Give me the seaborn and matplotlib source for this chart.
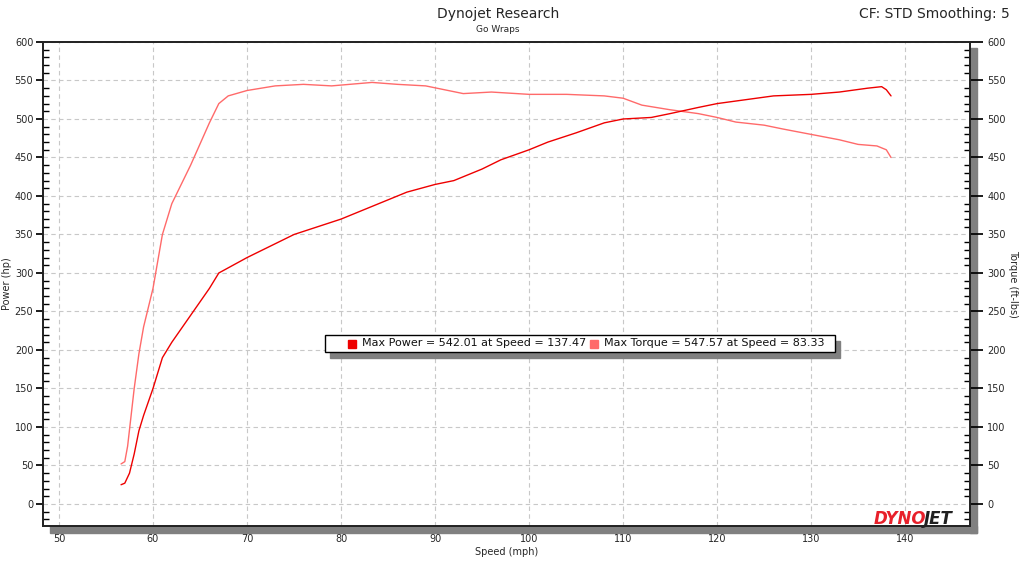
import matplotlib
matplotlib.use("Agg")
import matplotlib.pyplot as plt
import seaborn as sns
import pandas as pd
from matplotlib.ticker import MultipleLocator
from matplotlib.patches import Rectangle

power_speed = [56.6,57,57.5,58,58.5,59,60,61,62,64,66,67,70,75,80,84,87,90,92,95,97,100,102,105,108,110,113,115,118,120,123,126,130,133,136,137.5,138,138.5]
power_hp = [25,27,40,65,95,115,150,190,210,245,280,300,320,350,370,390,405,415,420,435,447,460,470,482,495,500,502,507,515,520,525,530,532,535,540,542,538,530]
torque_speed = [56.6,57,57.3,58,58.5,59,60,61,62,64,66,67,68,70,73,76,79,83.3,86,89,91,93,96,100,104,108,110,112,115,118,120,122,125,127,130,133,135,137,138,138.5]
torque_ftlb = [52,55,75,150,195,230,280,350,390,440,495,520,530,537,543,545,543,547.5,545,543,538,533,535,532,532,530,527,518,512,507,502,496,492,487,480,473,467,465,460,450]

sns.set_theme(style="white")
plt.rcParams['font.family'] = ['DejaVu Sans']
fig = plt.figure(figsize=(10.24, 5.76), dpi=100)
ax = fig.add_axes([43/1024, 1-526/576, 927/1024, 484/576])
dp = pd.DataFrame({"s": power_speed, "v": power_hp})
dt = pd.DataFrame({"s": torque_speed, "v": torque_ftlb})
sns.lineplot(data=dt, x="s", y="v", ax=ax, color="#ff6a6a", lw=1)
sns.lineplot(data=dp, x="s", y="v", ax=ax, color="#ee0000", lw=1)
ax.set_xlim(48.3, 146.9)
ax.set_ylim(-28.6, 600)
ax.xaxis.set_major_locator(MultipleLocator(10))
ax.xaxis.set_minor_locator(MultipleLocator(2))
ax.yaxis.set_major_locator(MultipleLocator(50))
ax.yaxis.set_minor_locator(MultipleLocator(10))
ax.grid(True, which="major", color="#c8c8c8", ls=(0, (4, 3)), lw=0.8)
ax.tick_params(which="both", labelsize=7, color="black", top=False, right=False)
ax.tick_params(axis="y", which="major", direction="out", length=5, pad=2)
ax.tick_params(axis="y", which="minor", direction="in", length=4)
ax.tick_params(axis="x", which="major", direction="inout", length=10, pad=1)
ax.tick_params(axis="x", which="minor", direction="in", length=5)
ax.set_xlabel("Speed (mph)", fontsize=7, labelpad=2)
ax.set_ylabel("Power (hp)", fontsize=7, labelpad=2)
for s in ax.spines.values():
    s.set_color("black"); s.set_linewidth(1.2)
ax2 = ax.twinx()
ax2.set_ylim(ax.get_ylim())
ax2.yaxis.set_major_locator(MultipleLocator(50))
ax2.yaxis.set_minor_locator(MultipleLocator(10))
ax2.tick_params(which="both", labelsize=7, color="black", left=False, top=False, bottom=False)
ax2.tick_params(which="major", direction="out", length=9)
ax2.tick_params(which="minor", direction="in", length=4)
ax2.set_ylabel("Torque (ft-lbs)", fontsize=7, rotation=270, labelpad=9)
ax2.grid(False)
# shadows
fig.patches.append(Rectangle((50/1024, 1-533/576), 927/1024, 7/576, transform=fig.transFigure, color="#808080", zorder=-1))
fig.patches.append(Rectangle((970/1024, 1-533/576), 7/1024, 485/576, transform=fig.transFigure, color="#808080", zorder=-1))
fig.text(498/1024, 1-14/576, "Dynojet Research", ha="center", va="center", fontsize=10)
fig.text(498/1024, 1-29/576, "Go Wraps", ha="center", va="center", fontsize=6.5)
fig.text(1010/1024, 1-14/576, "CF: STD Smoothing: 5", ha="right", va="center", fontsize=10)
# legend box
fig.patches.append(Rectangle((330/1024, 1-358/576), 510/1024, 17/576, transform=fig.transFigure, color="#808080", zorder=5))
fig.patches.append(Rectangle((325/1024, 1-352/576), 510/1024, 17/576, transform=fig.transFigure, facecolor="white", edgecolor="black", lw=1, zorder=6))
fig.patches.append(Rectangle((348/1024, 1-348/576), 8/1024, 8/576, transform=fig.transFigure, color="#ee0000", zorder=7))
fig.text(362/1024, 1-343.5/576, "Max Power = 542.01 at Speed = 137.47", fontsize=8, va="center", zorder=7, color="#111111")
fig.patches.append(Rectangle((590/1024, 1-348/576), 8/1024, 8/576, transform=fig.transFigure, color="#ff6a6a", zorder=7))
fig.text(604/1024, 1-343.5/576, "Max Torque = 547.57 at Speed = 83.33", fontsize=8, va="center", zorder=7, color="#111111")
fig.text(874/1024, 1-519/576, "DYNO", ha="left", va="center", fontsize=12, fontweight="bold", style="italic", color="#e8202a", zorder=8)
fig.text(924/1024, 1-519/576, "JET", ha="left", va="center", fontsize=12, fontweight="bold", style="italic", color="#202020", zorder=8)
fig.savefig("out.png", dpi=100)
